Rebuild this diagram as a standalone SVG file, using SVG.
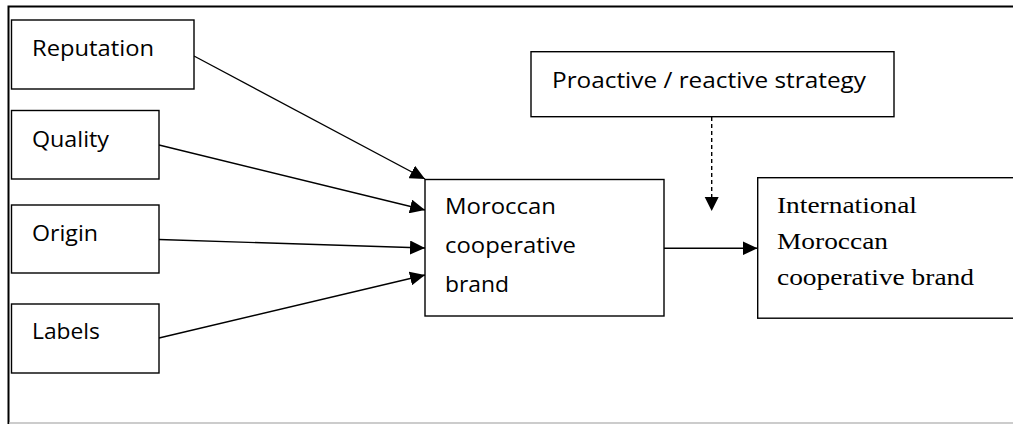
<svg xmlns="http://www.w3.org/2000/svg" width="1013" height="424" viewBox="0 0 1013 424">
<style>
.box{fill:#fff;stroke:#000;stroke-width:1.4}
.t{font-family:"Open Sans",Lato,"Liberation Sans",sans-serif;font-size:21px;fill:#000;font-variant-ligatures:none}
.s{font-family:"Liberation Serif","Times New Roman",serif;font-size:24px;fill:#000}
.c{stroke:#000;stroke-width:1.4;fill:none}
</style>
<defs>
<marker id="ah" markerUnits="userSpaceOnUse" markerWidth="16" markerHeight="14" refX="15" refY="7" orient="auto">
<path d="M0,0 L15,7 L0,14 Z" fill="#000"/>
</marker>
</defs>
<rect x="0" y="0" width="1013" height="424" fill="#fff"/>
<path d="M8.5,424 L8.5,6.5 L1013,6.5" fill="none" stroke="#000" stroke-width="2"/>
<line x1="9" y1="423" x2="1013" y2="423" stroke="#bbb" stroke-width="1.5"/>
<g id="connectors">
<line class="c" x1="194" y1="56" x2="425" y2="179" marker-end="url(#ah)"/>
<line class="c" x1="159" y1="145" x2="425" y2="210" marker-end="url(#ah)"/>
<line class="c" x1="159" y1="239.5" x2="425" y2="248" marker-end="url(#ah)"/>
<line class="c" x1="159" y1="338" x2="425" y2="275" marker-end="url(#ah)"/>
<line class="c" x1="664" y1="248.3" x2="757.5" y2="248.3" marker-end="url(#ah)"/>
<line class="c" x1="711.7" y1="117" x2="711.7" y2="197" stroke-dasharray="4,3" stroke="#333"/>
<path d="M704.7,197 L718.7,197 L711.7,211 Z" fill="#000"/>
</g>
<g id="reputation">
<rect class="box" x="11.5" y="20" width="182.5" height="69"/>
<text class="t" x="32" y="55.5" textLength="122" lengthAdjust="spacingAndGlyphs">Reputation</text>
</g>
<g id="quality">
<rect class="box" x="11.5" y="110.5" width="147.5" height="68.5"/>
<text class="t" x="32" y="146.5" textLength="77" lengthAdjust="spacingAndGlyphs">Quality</text>
</g>
<g id="origin">
<rect class="box" x="11.5" y="205" width="147.5" height="68"/>
<text class="t" x="32" y="240.5" textLength="66" lengthAdjust="spacingAndGlyphs">Origin</text>
</g>
<g id="labels">
<rect class="box" x="11.5" y="304" width="147.5" height="69"/>
<text class="t" x="32" y="339" textLength="68" lengthAdjust="spacingAndGlyphs">Labels</text>
</g>
<g id="moroccan">
<rect class="box" x="425" y="179.5" width="239" height="136.5"/>
<text class="t" x="445" y="214" textLength="111" lengthAdjust="spacingAndGlyphs">Moroccan</text>
<text class="t" x="445" y="253" textLength="131" lengthAdjust="spacingAndGlyphs">cooperative</text>
<text class="t" x="445" y="292" textLength="64" lengthAdjust="spacingAndGlyphs">brand</text>
</g>
<g id="strategy">
<rect class="box" x="531" y="51.7" width="363" height="65"/>
<text class="t" x="552" y="88.3" textLength="314" lengthAdjust="spacingAndGlyphs">Proactive / reactive strategy</text>
</g>
<g id="international">
<rect class="box" x="757.7" y="177.7" width="260" height="140.5"/>
<text class="s" x="777" y="212.7" textLength="140" lengthAdjust="spacingAndGlyphs">International</text>
<text class="s" x="777" y="249" textLength="111" lengthAdjust="spacingAndGlyphs">Moroccan</text>
<text class="s" x="777" y="285" textLength="197" lengthAdjust="spacingAndGlyphs">cooperative brand</text>
</g>
</svg>
